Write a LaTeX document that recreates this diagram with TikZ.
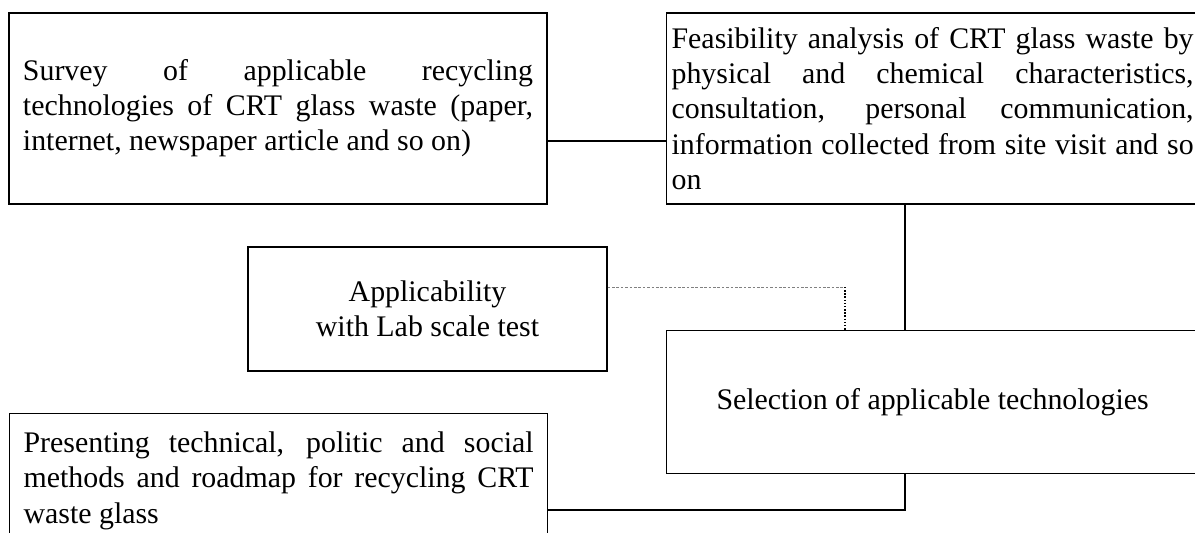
\documentclass[tikz,border=0pt]{standalone}
\usepackage{fontspec}
\setmainfont{Liberation Serif}
\begin{document}
\begin{tikzpicture}[
        box/.style={draw, line width=0.7pt, font=\fontsize{17}{20}\selectfont},
        link/.style={line width=0.7pt},
        dashlink/.style={gray, line width=0.5pt, dash pattern=on 1.5pt off 1pt},
        dotlink/.style={line width=0.8pt, densely dotted}]
    \clip (0,0) rectangle (23.9,10.64);

    % Boxes
    \node[box, text width=10.2cm, inner xsep=0.28cm, minimum height=3.82cm, align=justify] (survey) at (5.56,8.47)
        {Survey of applicable recycling\linebreak technologies of CRT glass waste (paper,\linebreak internet, newspaper article and so on)};
    \node[box, text width=10.44cm, inner xsep=0.1cm, minimum height=3.82cm, align=justify, anchor=west] (feasib) at (13.32,8.47)
        {Feasibility analysis of CRT glass waste by\linebreak physical and chemical characteristics,\linebreak consultation, personal communication,\linebreak information collected from site visit and so\linebreak on};
    \node[box, minimum width=7.18cm, minimum height=2.48cm, align=center] (labtest) at (8.55,4.46)
        {Applicability\\with Lab scale test};
    \node[box, minimum width=10.64cm, minimum height=2.86cm, anchor=north west] (select) at (13.32,4.04)
        {Selection of applicable technologies};
    \node[box, text width=10.2cm, inner xsep=0.28cm, inner ysep=0.37cm, align=justify, anchor=north west] (present) at (0.18,2.38)
        {Presenting technical, politic and social\linebreak methods and roadmap for recycling CRT\linebreak waste glass};

    % Connectors
    \coordinate (lvl1) at (0,7.82);
    \coordinate (col1) at (18.1,0);
    \coordinate (dotpt) at (16.9,4.90);
    \coordinate (lvl2) at (0,0.44);
    \draw[link] (survey.east |- lvl1) -- (feasib.west |- lvl1);
    \draw[link] (feasib.south -| col1) -- (select.north -| col1);
    \draw[dashlink] (labtest.east |- dotpt) -- (dotpt);
    \draw[dotlink] (dotpt) -- (select.north -| dotpt);
    \draw[link] (select.south -| col1) |- (present.east |- lvl2);
\end{tikzpicture}
\end{document}
